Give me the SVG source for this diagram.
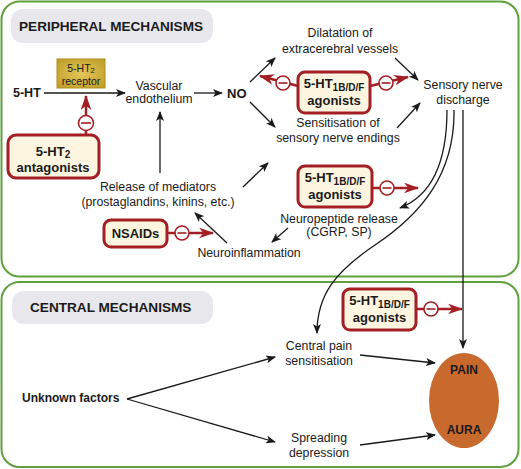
<svg xmlns="http://www.w3.org/2000/svg" width="521" height="469" viewBox="0 0 521 469">
<defs>
<style>
text{font-family:"Liberation Sans",Arial,sans-serif;fill:#1a1a1a}
.t{font-size:12.3px;text-anchor:middle}
.b{font-weight:bold}
.bc{font-weight:bold;text-anchor:middle;font-size:13px}
.sub{font-size:10px}
.panel{fill:#fff;stroke:#5e9f3e;stroke-width:2}
.lab{fill:#e8e8ec}
.lt{font-weight:bold;font-size:13.6px}
.drug{fill:#fdf5e0;stroke:#a31f24;stroke-width:3}
.c{stroke:#1a1a1a;stroke-width:1.3;fill:none;marker-end:url(#ah)}
.r{stroke:#a31f24;stroke-width:2.5;fill:none;marker-end:url(#rh)}
.m{fill:#fff;stroke:#a31f24;stroke-width:1.6}
.mn{stroke:#a31f24;stroke-width:1.6}
</style>
<marker id="ah" viewBox="0 0 10 8" refX="9" refY="4" markerWidth="10" markerHeight="8" markerUnits="userSpaceOnUse" orient="auto">
<path d="M0,0 L10,4 L0,8 L2.5,4 z" fill="#1a1a1a"/>
</marker>
<marker id="rh" viewBox="0 0 14 10" refX="13" refY="5" markerWidth="15" markerHeight="11" markerUnits="userSpaceOnUse" orient="auto">
<path d="M0,0 L14,5 L0,10 L4,5 z" fill="#a31f24"/>
</marker>
<radialGradient id="gold" cx="50%" cy="50%" r="70%">
<stop offset="0" stop-color="#e2c65a"/>
<stop offset="1" stop-color="#bf9b24"/>
</radialGradient>
</defs>

<g id="panels">
<rect class="panel" x="1.5" y="1.5" width="517" height="275" rx="18"/>
<rect class="panel" x="1.5" y="282" width="517" height="185" rx="18"/>
<rect class="lab" x="11" y="9" width="202" height="34" rx="12"/>
<text class="lt" x="19" y="31">PERIPHERAL MECHANISMS</text>
<rect class="lab" x="12" y="291" width="201" height="33" rx="12"/>
<text class="lt" x="30" y="312">CENTRAL MECHANISMS</text>
</g>

<g id="connectors">
<line class="c" x1="44" y1="93" x2="125" y2="93"/>
<line class="c" x1="194" y1="93" x2="222" y2="93"/>
<line class="c" x1="160" y1="173" x2="160" y2="112"/>
<line class="c" x1="227" y1="243" x2="195" y2="213"/>
<line class="c" x1="243" y1="187" x2="268" y2="163"/>
<line class="c" x1="288" y1="228" x2="272" y2="242"/>
<line class="c" x1="250" y1="82" x2="275" y2="58"/>
<line class="c" x1="250" y1="102" x2="275" y2="127"/>
<line class="c" x1="395" y1="58" x2="418" y2="80"/>
<line class="c" x1="397" y1="128" x2="420" y2="103"/>
<path class="c" d="M447,110 C447,160 433,195 400,208"/>
<path class="c" d="M454,110 C455,175 420,215 375,245 C335,272 317,295 317,333"/>
<line class="c" x1="463" y1="110" x2="463" y2="348"/>
<line class="c" x1="360" y1="355" x2="435" y2="363"/>
<line class="c" x1="360" y1="445" x2="435" y2="435"/>
<line class="c" x1="127" y1="399" x2="275" y2="357"/>
<line class="c" x1="127" y1="399" x2="275" y2="442"/>
<line class="r" x1="86" y1="135" x2="86" y2="96"/>
<line class="r" x1="167" y1="233" x2="213" y2="233"/>
<line class="r" x1="372" y1="188" x2="418" y2="188"/>
<line class="r" x1="298" y1="86" x2="260" y2="76"/>
<line class="r" x1="370" y1="86" x2="408" y2="77"/>
<line class="r" x1="416" y1="309" x2="462" y2="309"/>
<circle class="m" cx="86" cy="123" r="7.5"/><line class="mn" x1="81" y1="123" x2="91" y2="123"/>
<circle class="m" cx="182" cy="233" r="7"/><line class="mn" x1="177.5" y1="233" x2="186.5" y2="233"/>
<circle class="m" cx="387" cy="188" r="7"/><line class="mn" x1="382.5" y1="188" x2="391.5" y2="188"/>
<circle class="m" cx="283" cy="83" r="7"/><line class="mn" x1="278.5" y1="83" x2="287.5" y2="83"/>
<circle class="m" cx="386" cy="83" r="7"/><line class="mn" x1="381.5" y1="83" x2="390.5" y2="83"/>
<circle class="m" cx="431" cy="309" r="7"/><line class="mn" x1="426.5" y1="309" x2="435.5" y2="309"/>
</g>

<g id="n-5ht"><text class="b" x="13" y="97" font-size="12.5px">5-HT</text></g>
<g id="n-receptor">
<rect x="57" y="59" width="48" height="29" fill="url(#gold)" stroke="#b08d1c" stroke-width="1"/>
<text x="81" y="71.5" text-anchor="middle" font-size="10.5px" fill="#333">5-HT<tspan font-size="7.5px" dy="1.5">2</tspan></text>
<text x="81" y="85" text-anchor="middle" font-size="10.5px" fill="#333">receptor</text>
</g>
<g id="n-antag">
<rect class="drug" x="8" y="135" width="91" height="43" rx="8"/>
<text class="bc" x="53" y="155.5">5-HT<tspan class="sub" dy="2.5">2</tspan></text>
<text class="bc" x="53" y="172">antagonists</text>
</g>
<g id="n-vasc">
<text class="t" x="159" y="90">Vascular</text>
<text class="t" x="159" y="103">endothelium</text>
</g>
<g id="n-no"><text class="b" x="227" y="98" font-size="13px">NO</text></g>
<g id="n-release">
<text class="t" x="158" y="191">Release of mediators</text>
<text class="t" x="158" y="206">(prostaglandins, kinins, etc.)</text>
</g>
<g id="n-nsaids">
<rect class="drug" x="104" y="220" width="63" height="27" rx="7"/>
<text class="bc" x="135.5" y="238">NSAIDs</text>
</g>
<g id="n-neuroinfl"><text class="t" x="249" y="257">Neuroinflammation</text></g>
<g id="n-neuropep">
<text class="t" x="339" y="223">Neuropeptide release</text>
<text class="t" x="339" y="236">(CGRP, SP)</text>
</g>
<g id="n-agon1">
<rect class="drug" x="298" y="72" width="72" height="41" rx="7"/>
<text class="bc" x="334" y="88">5-HT<tspan class="sub" dy="2.5">1B/D/F</tspan></text>
<text class="bc" x="334" y="105">agonists</text>
</g>
<g id="n-agon2">
<rect class="drug" x="298" y="166" width="74" height="41" rx="7"/>
<text class="bc" x="335" y="182">5-HT<tspan class="sub" dy="2.5">1B/D/F</tspan></text>
<text class="bc" x="335" y="199">agonists</text>
</g>
<g id="n-agon3">
<rect class="drug" x="343" y="289" width="73" height="41" rx="7"/>
<text class="bc" x="379.5" y="305">5-HT<tspan class="sub" dy="2.5">1B/D/F</tspan></text>
<text class="bc" x="379.5" y="322">agonists</text>
</g>
<g id="n-dilat">
<text class="t" x="340" y="37">Dilatation of</text>
<text class="t" x="340" y="53">extracerebral vessels</text>
</g>
<g id="n-sensit">
<text class="t" x="338" y="127">Sensitisation of</text>
<text class="t" x="338" y="142">sensory nerve endings</text>
</g>
<g id="n-sensory">
<text class="t" x="463" y="89">Sensory nerve</text>
<text class="t" x="463" y="104">discharge</text>
</g>
<g id="n-central">
<text class="t" x="319" y="350">Central pain</text>
<text class="t" x="319" y="365">sensitisation</text>
</g>
<g id="n-spread">
<text class="t" x="319" y="442">Spreading</text>
<text class="t" x="319" y="457">depression</text>
</g>
<g id="n-unknown"><text class="b" x="22" y="402" font-size="12px">Unknown factors</text></g>
<g id="n-painaura">
<ellipse cx="464" cy="400.5" rx="35" ry="47.5" fill="#c8692e"/>
<text class="b" x="464" y="374" font-size="12px" text-anchor="middle">PAIN</text>
<text class="b" x="464" y="434" font-size="12px" text-anchor="middle">AURA</text>
</g>
</svg>
